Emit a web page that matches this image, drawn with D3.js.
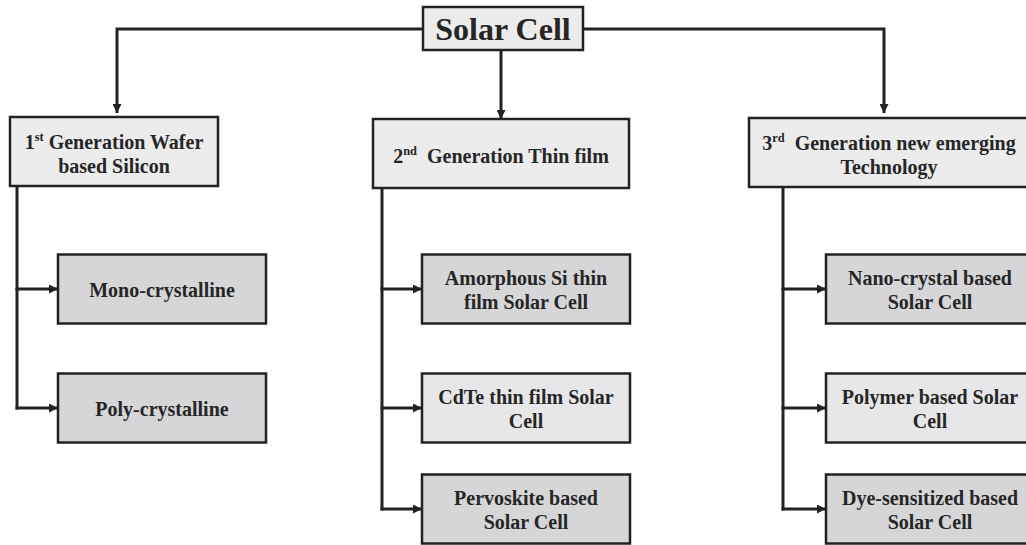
<!DOCTYPE html>
<html>
<head>
<meta charset="utf-8">
<script src="https://cdn.jsdelivr.net/npm/d3@7"></script>
<style>
  html, body { margin: 0; padding: 0; background: #fff; overflow: hidden; }
  svg { display: block; }
</style>
</head>
<body>
<svg id="chart" width="1026" height="545"></svg>
<script>
// ---------- data ----------
const rootLabel = "Solar Cell";
// "^xx^" marks superscript, "|" marks a line break
const generations = [
  "1^st^ Generation Wafer|based Silicon",
  "2^nd^  Generation Thin film",
  "3^rd^  Generation new emerging|Technology"
];
const gen1Children = ["Mono-crystalline", "Poly-crystalline"];
const gen2Children = ["Amorphous Si thin|film Solar Cell", "CdTe thin film Solar|Cell", "Pervoskite based|Solar Cell"];
const gen3Children = ["Nano-crystal based|Solar Cell", "Polymer based Solar|Cell", "Dye-sensitized based|Solar Cell"];
const childrenByGen = [gen1Children, gen2Children, gen3Children];

// ---------- styles / layout ----------
const FONT = "Liberation Serif";
const textColor = "#262626";
const lineColor = "#222";
const fillRoot = "#ececec";
const fillGen = "#ececec";
const fillDark = "#d6d6d8";
const fillLight = "#e7e7e9";
const lightChildren = new Set(["CdTe thin film Solar|Cell", "Polymer based Solar|Cell"]);

const svg = d3.select("#chart");

const colIdx = d3.range(generations.length);
const genLeft = d3.scaleOrdinal().domain(colIdx).range([10, 373, 749]);
const genWidth = d3.scaleOrdinal().domain(colIdx).range([208, 256, 280]);
const genTop = d3.scaleOrdinal().domain(colIdx).range([117, 119, 118]);
const genH = 69;
const spineX = d3.scaleOrdinal().domain(colIdx).range([17, 382, 783]);
const childLeft = d3.scaleOrdinal().domain(colIdx).range([58, 422, 826]);
const childW = 208, childH = 69;
const rowY = d3.scaleOrdinal().domain([0, 1, 2]).range([289, 408, 509]);

const root = { x: 423, y: 7, w: 160, h: 43 };
const rootCx = root.x + root.w / 2;
const busY = 29;

const defs = svg.append("defs");
defs.append("marker")
  .attr("id", "arrow")
  .attr("viewBox", "0 0 10 10")
  .attr("refX", 10).attr("refY", 5)
  .attr("markerWidth", 10).attr("markerHeight", 9)
  .attr("markerUnits", "userSpaceOnUse")
  .attr("orient", "auto")
  .append("path").attr("d", "M0,0 L10,5 L0,10 Z").attr("fill", lineColor);

const links = svg.append("g")
  .attr("fill", "none").attr("stroke", lineColor).attr("stroke-width", 3);

function drawLabel(g, label, cx, cy, size, lineGap) {
  const lines = label.split("|");
  const n = lines.length;
  lines.forEach((ln, i) => {
    const y = cy + (i - (n - 1) / 2) * lineGap + size * 0.33 + 1.5;
    const t = g.append("text")
      .attr("x", cx).attr("y", y)
      .attr("text-anchor", "middle")
      .attr("font-family", FONT)
      .attr("font-weight", "bold")
      .attr("fill", textColor)
      .attr("font-size", size)
      .style("white-space", "pre");
    const parts = ln.split("^");
    let pendingDy = 0;
    parts.forEach((p, k) => {
      if (!p) return;
      if (k % 2 === 1) {
        t.append("tspan").attr("font-size", size * 0.62).attr("dy", -size * 0.36).text(p);
        pendingDy = size * 0.36;
      } else {
        const ts = t.append("tspan").text(p);
        if (pendingDy) { ts.attr("dy", pendingDy); pendingDy = 0; }
      }
    });
  });
}

const genCx = i => genLeft(i) + genWidth(i) / 2;
links.append("path").attr("d", `M${root.x},${busY} H${genCx(0) + 3} V${genTop(0) - 4}`).attr("marker-end", "url(#arrow)");
links.append("path").attr("d", `M${genCx(1)},${root.y + root.h} V${genTop(1)}`).attr("marker-end", "url(#arrow)");
links.append("path").attr("d", `M${root.x + root.w},${busY} H${genCx(2) - 5} V${genTop(2) - 5}`).attr("marker-end", "url(#arrow)");

childrenByGen.forEach((kids, i) => {
  const x = spineX(i);
  const lastY = rowY(kids.length - 1);
  links.append("path").attr("d", `M${x},${genTop(i) + genH} V${lastY + 1.5}`);
  kids.forEach((k, j) => {
    links.append("path").attr("d", `M${x - 1.5},${rowY(j)} H${childLeft(i)}`).attr("marker-end", "url(#arrow)");
  });
});

const boxes = svg.append("g");
const rg = boxes.append("g");
rg.append("rect").attr("x", root.x).attr("y", root.y).attr("width", root.w).attr("height", root.h)
  .attr("fill", fillRoot).attr("stroke", lineColor).attr("stroke-width", 2.5);
drawLabel(rg, rootLabel, rootCx, root.y + root.h / 2 - 1, 32, 30);

generations.forEach((g, i) => {
  const gg = boxes.append("g");
  gg.append("rect").attr("x", genLeft(i)).attr("y", genTop(i)).attr("width", genWidth(i)).attr("height", genH)
    .attr("fill", fillGen).attr("stroke", lineColor).attr("stroke-width", 2.5);
  drawLabel(gg, g, genCx(i), genTop(i) + genH / 2 + 1, 20, 24);
});

childrenByGen.forEach((kids, i) => {
  kids.forEach((k, j) => {
    const cg = boxes.append("g");
    const top = rowY(j) - childH / 2;
    cg.append("rect").attr("x", childLeft(i)).attr("y", top).attr("width", childW).attr("height", childH)
      .attr("fill", lightChildren.has(k) ? fillLight : fillDark)
      .attr("stroke", lineColor).attr("stroke-width", 2.5);
    drawLabel(cg, k, childLeft(i) + childW / 2, rowY(j), 20, 24);
  });
});
</script>
</body>
</html>
